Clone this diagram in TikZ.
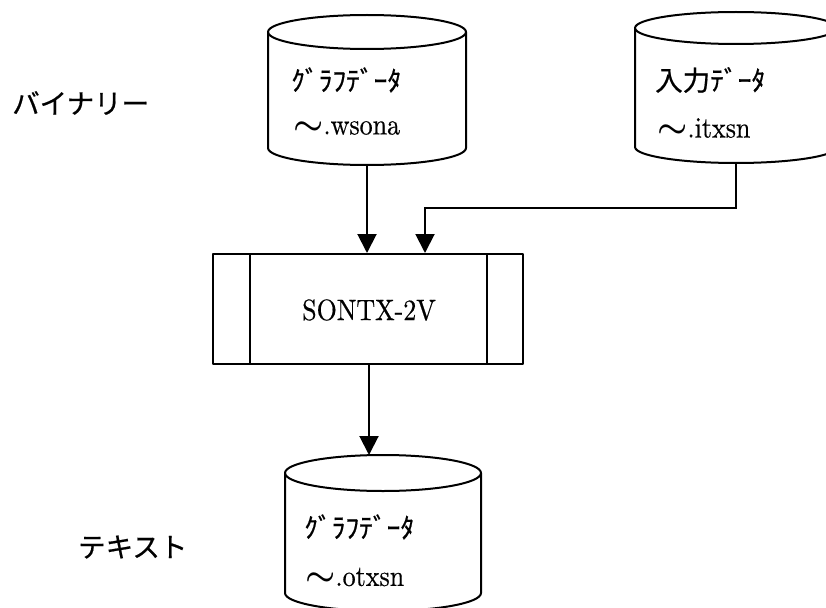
\documentclass[tikz,border=0pt]{standalone}
\usepackage{fontspec}
\newfontfamily\jp{Noto Sans CJK JP}[FakeBold=0.6]
\newfontfamily\romb{Latin Modern Roman}[FakeBold=0.5]
\usetikzlibrary{arrows.meta}

% database cylinder: centre x, top-ellipse y, side-bottom y, radii
\newcommand\dbcyl[5]{%
  \draw[outline] (#1,#2) ellipse [x radius=#4, y radius=#5];
  \draw[outline] (#1-#4,#2) -- (#1-#4,#3)
    arc[start angle=180, end angle=0, x radius=#4, y radius=#5]
    -- (#1+#4,#2);
}
% roman text set at 10pt and enlarged, a little taller than wide
\newcommand\romtxt[1]{\scalebox{2.6}[2.95]{\romb\fontsize{10}{12}\selectfont #1}}
\newcommand\wave{\scalebox{1.3}[1.1]{\boldmath$\sim$}}

\tikzset{
  outline/.style={line width=2pt, line join=round},
  flow/.style={line width=2pt, -{Triangle[length=19pt,width=19pt]}},
  txt/.style={anchor=west, inner sep=0pt},
  jtxt/.style={anchor=west, inner sep=0pt, font=\jp\fontsize{27.5}{32}\selectfont},
}

\begin{document}
\begin{tikzpicture}[x=1pt, y=-1pt]
\useasboundingbox (0,0) rectangle (826,607);
\clip (0,0) rectangle (826,607);

% data stores
\dbcyl{367}{32}{148}{99}{17}
\dbcyl{736}{28}{147}{101}{16}
\dbcyl{383}{473}{593}{98}{18}

\coordinate (graphbot) at (367,165);
\coordinate (inbot) at (736,164);
\coordinate (outtop) at (369,455);

\node[jtxt] (g1) at (291,80) {ｸﾞﾗﾌﾃﾞｰﾀ};
\node[txt]  (g2) at (293,128) {\romtxt{\wave.wsona}};
\node[jtxt] (i1) at (655,80) {入力ﾃﾞｰﾀ};
\node[txt]  (i2) at (657,128) {\romtxt{\wave.itxsn}};
\node[jtxt] (o1) at (304,527) {ｸﾞﾗﾌﾃﾞｰﾀ};
\node[txt]  (o2) at (305,577) {\romtxt{\wave.otxsn}};

% side labels
\node[jtxt] (bin) at (12,103) {バイナリー};
\node[jtxt] (text) at (78,547) {テキスト};

% program box with double side bars
\node[draw, outline, minimum width=310pt, minimum height=110pt, inner sep=0pt]
  (prog) at (368,309) {};
\draw[outline] ([xshift=38pt]prog.north west) -- ([xshift=38pt]prog.south west);
\draw[outline] ([xshift=-37pt]prog.north east) -- ([xshift=-37pt]prog.south east);
\node[txt, anchor=center] (progname) at (369,310) {\romtxt{SONTX-2V}};

% connectors
\coordinate (in1) at (367,0 |- prog.north);
\coordinate (in2) at (425,0 |- prog.north);
\coordinate (bend) at (736,208);
\coordinate (bend2) at (425,208);
\draw[flow] (graphbot) -- (in1);
\draw[flow] (inbot) -- (bend) -- (bend2) -- (in2);
\draw[flow] (outtop |- prog.south) -- (outtop);
\end{tikzpicture}
\end{document}
